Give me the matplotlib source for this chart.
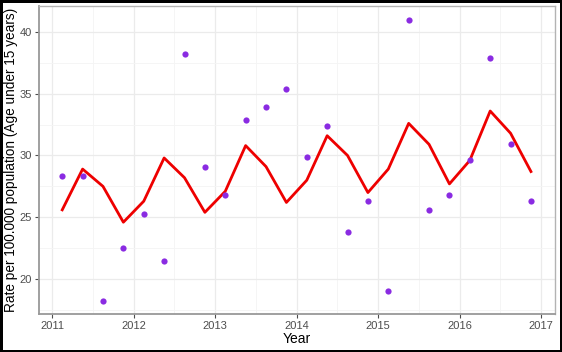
import matplotlib.pyplot as plt
import numpy as np

plt.rcParams['font.family'] = ['Liberation Sans', 'DejaVu Sans']

# quarterly time points (mid-quarter)
quarters = [2011.125, 2011.375, 2011.625, 2011.875,
            2012.125, 2012.375, 2012.625, 2012.875,
            2013.125, 2013.375, 2013.625, 2013.875,
            2014.125, 2014.375, 2014.625, 2014.875,
            2015.125, 2015.375, 2015.625, 2015.875,
            2016.125, 2016.375, 2016.625, 2016.875]

observed = [28.3, 28.3, 18.2, 22.5,
            25.3, 21.5, 38.2, 29.1,
            26.8, 32.9, 33.9, 35.4,
            29.9, 32.4, 23.8, 26.3,
            19.0, 41.0, 25.6, 26.8,
            29.6, 37.9, 30.9, 26.3]

fitted = [25.6, 28.9, 27.5, 24.6,
          26.3, 29.8, 28.2, 25.4,
          27.1, 30.8, 29.1, 26.2,
          28.0, 31.6, 30.0, 27.0,
          28.9, 32.6, 30.9, 27.7,
          29.6, 33.6, 31.8, 28.7]

year_ticks = [2011, 2012, 2013, 2014, 2015, 2016, 2017]
rate_ticks = [20, 25, 30, 35, 40]

fig = plt.figure(figsize=(5.62, 3.52), dpi=100)
fig.patch.set_edgecolor('black')
fig.patch.set_linewidth(2.5)
ax = fig.add_axes([39 / 562, 1 - 314 / 352, (555 - 39) / 562, (314 - 6) / 352])

ax.set_xticks(year_ticks)
ax.set_xticks(np.arange(2010.5, 2017.6, 1.0), minor=True)
ax.set_yticks(rate_ticks)
ax.set_yticks([17.5, 22.5, 27.5, 32.5, 37.5, 42.5], minor=True)
ax.set_xlim(2010.84, 2017.17)
ax.set_ylim(17.17, 42.1)
ax.grid(which='major', color='#ebebeb', linewidth=0.9)
ax.grid(which='minor', color='#f4f4f4', linewidth=0.6)
ax.set_axisbelow(True)

for side in ['top', 'right']:
    ax.spines[side].set_color('#b3b3b3')
    ax.spines[side].set_linewidth(1.0)
for side in ['left', 'bottom']:
    ax.spines[side].set_color('#999999')
    ax.spines[side].set_linewidth(1.3)

ax.tick_params(which='major', length=3, color='#4d4d4d', labelsize=8,
               labelcolor='#4d4d4d', pad=2)
ax.tick_params(which='minor', length=0)

ax.plot(quarters, fitted, color='#ee0000', linewidth=2.0, zorder=2)
ax.scatter(quarters, observed, color='#8a2be2', s=20, zorder=3, linewidths=0)

ax.set_xlabel('Year', fontsize=10, labelpad=1)
ax.set_ylabel('Rate per 100.000 population (Age under 15 years)', fontsize=9.8, labelpad=1)

fig.savefig('out.png', dpi=100, edgecolor=fig.get_edgecolor())
